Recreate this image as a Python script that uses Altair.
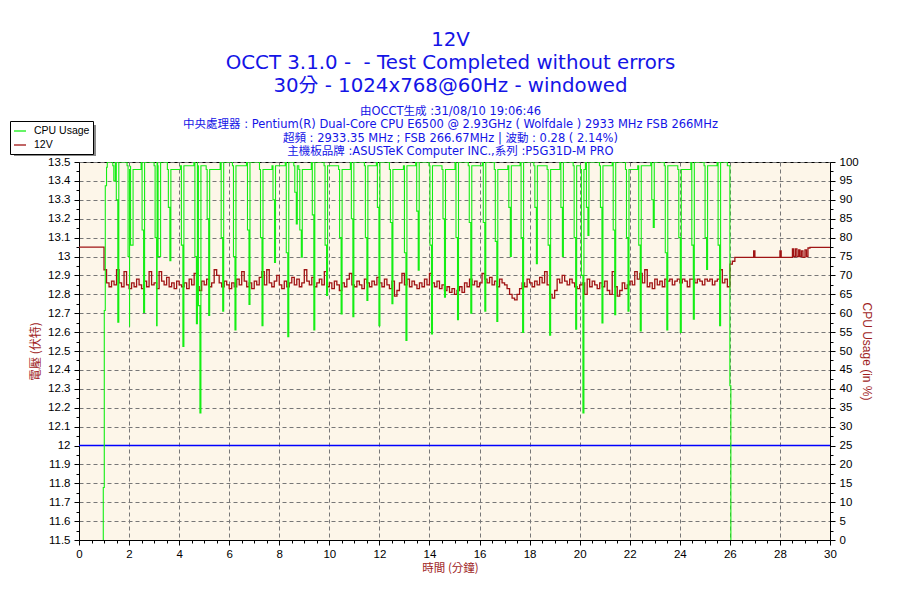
import altair as alt
import pandas as pd

GREEN = "#14EE14"
RED = "#A01414"
BLUE = "#0000FF"
TXT_BLUE = "#1414E6"
AX_RED = "#A01E1E"
BG = "#FDF6E9"
GRID = "#777777"

title_lines = ["12V", "OCCT 3.1.0 - \u00a0- Test Completed without errors", "30分 - 1024x768@60Hz - windowed"]
subtitle_lines = [
    "由OCCT生成 :31/08/10 19:06:46",
    "中央處理器 : Pentium(R) Dual-Core CPU E6500 @ 2.93GHz ( Wolfdale ) 2933 MHz FSB 266MHz",
    "超頻 : 2933.35 MHz ; FSB 266.67MHz | 波動 : 0.28 ( 2.14%)",
    "主機板品牌 :ASUSTeK Computer INC.,系列 :P5G31D-M PRO",
]
series_names = ["CPU Usage", "12V"]
series_colors = [GREEN, RED]

# ---- 12V readings (volts) ----
volt_pre_t = [0.0, 1.0]
volt_pre_v = [13.05, 13.05]
volt_main_start = 1.0
volt_main_step = 0.1
volt_main = [
    12.93, 12.86, 12.84, 12.87, 12.85, 12.93, 12.86, 12.84, 12.92, 12.85,
    12.83, 12.86, 12.84, 12.88, 12.85, 12.83, 12.87, 12.84, 12.92, 12.85,
    12.86, 12.83, 12.92, 12.87, 12.85, 12.89, 12.84, 12.86, 12.83, 12.87,
    12.85, 12.84, 12.86, 12.83, 12.88, 12.85, 12.91, 12.84, 12.82, 12.87,
    12.85, 12.88, 12.84, 12.86, 12.93, 12.90, 12.86, 12.84, 12.87, 12.85,
    12.83, 12.86, 12.84, 12.88, 12.85, 12.92, 12.87, 12.84, 12.86, 12.83,
    12.87, 12.85, 12.89, 12.92, 12.85, 12.93, 12.86, 12.84, 12.87, 12.90,
    12.85, 12.83, 12.87, 12.84, 12.86, 12.89, 12.85, 12.88, 12.84, 12.86,
    12.93, 12.87, 12.85, 12.89, 12.84, 12.86, 12.88, 12.85, 12.92, 12.84,
    12.86, 12.83, 12.87, 12.85, 12.82, 12.86, 12.84, 12.88, 12.91, 12.85,
    12.84, 12.87, 12.85, 12.83, 12.88, 12.86, 12.84, 12.87, 12.85, 12.89,
    12.86, 12.84, 12.88, 12.85, 12.83, 12.87, 12.79, 12.82, 12.86, 12.91,
    12.85, 12.88, 12.84, 12.87, 12.85, 12.83, 12.86, 12.84, 12.88, 12.85,
    12.91, 12.86, 12.84, 12.87, 12.83, 12.85, 12.82, 12.84, 12.81, 12.83,
    12.80, 12.82, 12.84, 12.81, 12.86, 12.84, 12.88, 12.85, 12.87, 12.84,
    12.86, 12.91, 12.88, 12.86, 12.89, 12.85, 12.87, 12.84, 12.88, 12.86,
    12.85, 12.83, 12.80, 12.78, 12.77, 12.80, 12.83, 12.86, 12.84, 12.88,
    12.86, 12.84, 12.87, 12.85, 12.89, 12.86, 12.92, 12.85, 12.80, 12.78,
    12.82, 12.88, 12.86, 12.90, 12.87, 12.85, 12.88, 12.86, 12.84, 12.83,
    12.85, 12.86, 12.80, 12.88, 12.84, 12.87, 12.85, 12.83, 12.86, 12.84,
    12.87, 12.82, 12.80, 12.92, 12.84, 12.79, 12.82, 12.86, 12.83, 12.85,
    12.87, 12.85, 12.92, 12.88, 12.91, 12.86, 12.93, 12.84, 12.86, 12.83,
    12.88, 12.85, 12.87, 12.84, 12.88, 12.87, 12.88, 12.85, 12.87, 12.88,
    12.86, 12.88, 12.87, 12.84, 12.88, 12.88, 12.86, 12.88, 12.87, 12.85,
    12.88, 12.87, 12.88, 12.85, 12.87, 12.88, 12.93, 12.86, 12.88, 12.84,
    12.96,
]
volt_post_t = [26.1, 26.2, 26.95, 27.0, 28.0, 28.05, 28.5, 28.55, 28.62, 28.68,
               28.75, 28.8, 28.86, 28.92, 29.0, 29.06, 29.12, 29.2, 30.0]
volt_post_v = [12.975, 12.995, 13.03, 12.995, 13.03, 12.995, 13.04, 13.0, 13.04, 13.0,
               13.035, 13.0, 13.03, 12.995, 13.035, 13.0, 13.045, 13.048, 13.048]

# ---- CPU usage (%) ----
cpu_rise_t = [0.96, 0.97, 1.01, 1.05, 1.10, 1.13]
cpu_rise_v = [0, 13.9, 60.7, 93.7, 98.6, 100]
dip_t = [1.45, 1.55, 2.02, 2.12, 2.58, 3.10, 3.22, 3.63, 4.15, 4.69, 4.83, 5.18, 5.74,
         6.23, 6.79, 7.31, 7.81, 8.34, 8.68, 8.88, 9.38, 9.89, 10.47, 10.94, 11.50, 11.98,
         12.50, 13.06, 13.55, 14.08, 14.60, 15.12, 15.65, 16.21, 16.69, 17.23, 17.72, 18.27,
         18.80, 19.31, 19.84, 20.13, 20.33, 20.89, 21.40, 21.93, 22.42, 22.94, 23.48, 24.02,
         24.54, 25.07, 25.59]
dip_mid = [95, 90, 75, 78, 82, 80, 75, 88, 78, 75, 62, 85, 80,
           75, 82, 80, 90, 76, 92, 82, 86, 78, 80, 85, 80, 88,
           84, 76, 87, 78, 85, 80, 84, 84, 79, 88, 80, 88,
           78, 88, 80, 70, 88, 88, 82, 80, 78, 90, 76, 80,
           78, 80, 78]
dip_low = [95, 57.6, 56.5, 78, 60.2, 56.7, 75, 73.9, 51.2, 57.2, 33.6, 59.4, 60.5,
           55.6, 62.3, 56.7, 73.4, 53.8, 83.6, 74.8, 55.6, 64.7, 59.8, 59.1, 63.4, 56.7,
           62.5, 52.8, 71.4, 54.5, 64.2, 58.3, 60.0, 60.5, 57.8, 75.0, 54.9, 73.1,
           54.2, 75.0, 55.8, 33.6, 80.6, 57.4, 59.6, 60.5, 55.3, 82.7, 55.6, 54.9,
           58.4, 71.6, 56.7]
dip_top = [99, 100, 99, 98, 100, 99, 100, 98, 99, 100, 99, 98, 100,
           99, 100, 98, 99, 100, 99, 98, 100, 99, 98, 100, 99, 100,
           98, 99, 100, 99, 98, 100, 99, 100, 98, 99, 100, 99,
           98, 100, 99, 98, 100, 99, 100, 98, 99, 100, 99, 98,
           100, 99, 100]
cpu_fall_t = [25.9, 26.0, 26.04]
cpu_fall_v = [99, 40.8, 0]

limit_v = [12.0]

x_ticks = [i * 0.5 for i in range(61)]
volt_ticks = [round(11.5 + 0.05 * i, 2) for i in range(41)]
cpu_ticks = [2.5 * i for i in range(41)]

# ---- tables ----
vt = volt_pre_t + [round(volt_main_start + volt_main_step * k, 2) for k in range(len(volt_main))] + volt_post_t
vv = volt_pre_v + volt_main + volt_post_v
volt_df = pd.DataFrame({"t": vt, "v": vv, "i": list(range(len(vt))), "series": "12V"})

pts = list(zip(cpu_rise_t, cpu_rise_v))
for t, m, lo, tp in zip(dip_t, dip_mid, dip_low, dip_top):
    pts += [(t - 0.1, tp), (t - 0.06, m), (t, lo), (t + 0.04, tp)]
pts += list(zip(cpu_fall_t, cpu_fall_v))
pts.sort(key=lambda p: p[0])
cpu_df = pd.DataFrame({"t": [p[0] for p in pts], "c": [p[1] for p in pts],
                       "i": list(range(len(pts))), "series": "CPU Usage"})

LAB_FONT = "Liberation Sans"
CJK = "Noto Sans CJK TC"
MAJ_X = "datum.value % 2 == 0"
MAJ_V = "abs(datum.value * 10 - round(datum.value * 10)) < 0.001"
MAJ_C = "datum.value % 5 == 0"

x_axis = alt.Axis(
    values=x_ticks, tickCount=500, labelExpr=MAJ_X + " ? format(datum.value, 'd') : ''",
    grid=True, gridColor=GRID, gridDash=[4, 3], gridWidth=1,
    gridOpacity={"condition": {"test": MAJ_X, "value": 1}, "value": 0},
    tickSize={"condition": {"test": MAJ_X, "value": 5}, "value": 3},
    tickColor="black", domainColor="black", labelColor="black",
    labelFont=LAB_FONT, labelFontSize=11.5, labelPadding=3, labelFlush=False, labelOverlap=False,
    title="時間 (分鐘)", titleFont=CJK, titleFontSize=11.5, titleFontWeight="normal",
    titleColor=AX_RED, titleX=371, titleY=28, titleAlign="center", titleBaseline="middle",
)
left_axis = alt.Axis(
    orient="left", values=volt_ticks, tickCount=500,
    labelExpr=MAJ_V + " ? format(datum.value, '.1~f') : ''",
    grid=True, gridColor=GRID, gridDash=[4, 3], gridWidth=1,
    gridOpacity={"condition": {"test": MAJ_V + " && abs(datum.value - 12) > 0.001", "value": 1}, "value": 0},
    tickSize={"condition": {"test": MAJ_V, "value": 5}, "value": 3},
    tickColor="black", domainColor="black", labelColor="black",
    labelFont=LAB_FONT, labelFontSize=11.5, labelPadding=4, labelOverlap=False,
    title="電壓 (伏特)", titleFont=CJK, titleFontSize=12, titleFontWeight="normal",
    titleColor=AX_RED, titleX=-44, titleY=189, titleAngle=270,
    titleAlign="center", titleBaseline="middle",
)
right_axis = alt.Axis(
    orient="right", values=cpu_ticks, tickCount=500,
    labelExpr=MAJ_C + " ? format(datum.value, 'd') : ''",
    grid=False,
    tickSize={"condition": {"test": MAJ_C, "value": 5}, "value": 3},
    tickColor="black", domainColor="black", labelColor="black",
    labelFont=LAB_FONT, labelFontSize=11.5, labelPadding=4, labelOverlap=False,
    title="CPU Usage (in %)", titleFont=LAB_FONT, titleFontSize=12, titleFontWeight="normal",
    titleColor=AX_RED, titleX=36, titleY=189, titleAngle=90,
    titleAlign="center", titleBaseline="middle",
)

color_scale = alt.Scale(domain=series_names, range=series_colors)
legend = alt.Legend(
    title=None, orient="none", legendX=-69, legendY=-41,
    fillColor="white", strokeColor="black", padding=3,
    symbolType="stroke", symbolSize=144, symbolStrokeWidth=1.3,
    labelFont=LAB_FONT, labelFontSize=10.5, labelColor="black", labelOffset=7, rowPadding=1,
)

x_scale = alt.Scale(domain=[0, 30], nice=False, zero=False)

limit = alt.Chart(pd.DataFrame({"v": limit_v})).mark_rule(color=BLUE, strokeWidth=1.6).encode(
    y=alt.Y("v:Q")
)
red = alt.Chart(volt_df).mark_line(interpolate="step-after", strokeWidth=1.3, clip=True).encode(
    x=alt.X("t:Q", scale=x_scale, axis=x_axis),
    y=alt.Y("v:Q", scale=alt.Scale(domain=[11.5, 13.5], nice=False, zero=False), axis=left_axis),
    color=alt.Color("series:N", scale=color_scale, legend=legend),
    order=alt.Order("i:Q"),
)
shadow = alt.Chart(pd.DataFrame({"a": [0]})).mark_rect(color="#8a8a8a", opacity=1, clip=False).encode(
    x=alt.value(-65), x2=alt.value(17), y=alt.value(-37), y2=alt.value(-6)
)
green = alt.Chart(cpu_df).mark_line(interpolate="step-after", strokeWidth=1.1, clip=True).encode(
    x=alt.X("t:Q", scale=x_scale),
    y=alt.Y("c:Q", scale=alt.Scale(domain=[0, 100], nice=False, zero=False), axis=right_axis),
    color=alt.Color("series:N", scale=color_scale),
    order=alt.Order("i:Q"),
)

chart = alt.layer(alt.layer(shadow, limit, red), green).resolve_scale(y="independent").properties(
    width=751, height=378,
    autosize=alt.AutoSizeParams(type="none"),
    padding={"left": 71, "top": 154, "right": 60, "bottom": 50},
    background="white",
    title=alt.TitleParams(
        text=title_lines, subtitle=subtitle_lines, anchor="middle", dx=-4,
        font="DejaVu Sans, " + CJK, fontSize=19.8, fontWeight="normal", color=TXT_BLUE, lineHeight=23,
        subtitleFont="DejaVu Sans, " + CJK, subtitleFontSize=11.5, subtitleColor=TXT_BLUE,
        subtitleLineHeight=13.5, subtitlePadding=10, offset=-37,
    ),
).configure_view(stroke="black", strokeWidth=1, fill=BG)

chart.save("out.html", embed_options={"renderer": "svg", "actions": False})
